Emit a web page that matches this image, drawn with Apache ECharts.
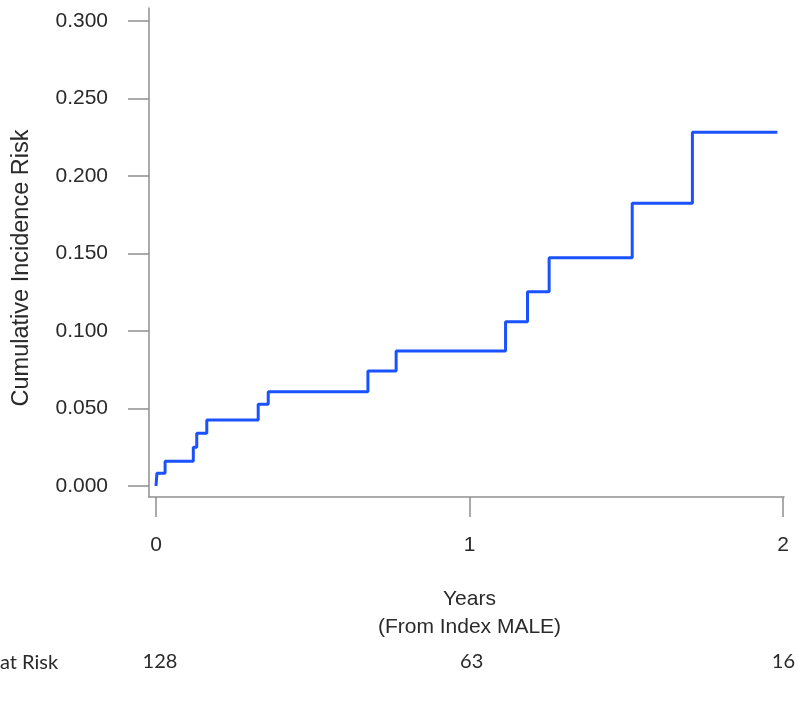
<!DOCTYPE html>
<html>
<head>
<meta charset="utf-8">
<script src="https://cdn.jsdelivr.net/npm/echarts@6/dist/echarts.min.js"></script>
<style>
html,body{margin:0;padding:0;background:#fff;}
#chart{width:798px;height:707px;}
</style>
</head>
<body>
<div id="chart"></div>
<script>
// Event times (years) and cumulative incidence after each event
var eventYears = [0, 0.003, 0.029, 0.119, 0.13, 0.162, 0.326, 0.358, 0.676, 0.766, 1.115, 1.185, 1.254, 1.519, 1.711, 1.982];
var cumIncidence = [0, 0.0083, 0.016, 0.025, 0.034, 0.0426, 0.0527, 0.0608, 0.0742, 0.0871, 0.106, 0.1254, 0.1473, 0.1824, 0.2282, 0.2282];
// Number at risk at years 0, 1, 2
var riskYears = [0, 1, 2];
var atRisk = [128, 63, 16];
var xTicks = [0, 1, 2];
var yTicks = [0, 0.05, 0.1, 0.15, 0.2, 0.25, 0.3];

var seriesData = eventYears.map(function (t, i) { return [t, cumIncidence[i]]; });

var txt = '#2a2a2a';
var axisCol = '#8f8f8f';
var font = '"Liberation Sans", Arial, sans-serif';

function hiddenAxis(gi, mn, mx) {
  return {type: 'value', gridIndex: gi, min: mn, max: mx, show: false};
}

var chart = echarts.init(document.getElementById('chart'), null, {renderer: 'canvas'});
chart.setOption({
  animation: false,
  backgroundColor: '#ffffff',
  grid: [
    {left: 156, right: 15, top: 21, bottom: 221},   // data
    {left: 149, right: 14, top: 8, bottom: 210},    // L-shaped axis lines
    {left: 160, right: 11, top: 21, bottom: 221},   // number at risk row
    {left: 149, right: 15, top: 21, bottom: 221},   // y ticks + labels
    {left: 156, right: 15, top: 21, bottom: 210}    // x ticks + labels
  ],
  xAxis: [
    hiddenAxis(0, 0, 2),
    {
      type: 'value', gridIndex: 1, min: 0, max: 1,
      axisLine: {show: true, onZero: false, lineStyle: {color: axisCol, width: 1.5}},
      axisTick: {show: false}, axisLabel: {show: false}, splitLine: {show: false}
    },
    {
      type: 'value', gridIndex: 2, min: 0, max: 2, interval: 1,
      axisLine: {show: false}, axisTick: {show: false}, splitLine: {show: false},
      axisLabel: {
        margin: 166, color: txt, fontSize: 20, fontFamily: 'Lato, "Open Sans", sans-serif',
        formatter: function (v) { var i = riskYears.indexOf(v); return i >= 0 ? String(atRisk[i]) : ''; }
      }
    },
    hiddenAxis(3, 0, 2),
    {
      type: 'value', gridIndex: 4, min: xTicks[0], max: xTicks[xTicks.length - 1], interval: 1,
      axisLine: {show: false},
      axisTick: {show: true, length: 20, lineStyle: {color: axisCol, width: 1.5}},
      axisLabel: {margin: 38, color: txt, fontSize: 21, fontFamily: font},
      splitLine: {show: false},
      name: 'Years\n(From Index MALE)', nameLocation: 'middle', nameGap: 88,
      nameTextStyle: {color: txt, fontSize: 21, fontFamily: font, lineHeight: 28}
    }
  ],
  yAxis: [
    hiddenAxis(0, 0, 0.3),
    {
      type: 'value', gridIndex: 1, min: 0, max: 1,
      axisLine: {show: true, onZero: false, lineStyle: {color: axisCol, width: 1.5}},
      axisTick: {show: false}, axisLabel: {show: false}, splitLine: {show: false}
    },
    hiddenAxis(2, 0, 1),
    {
      type: 'value', gridIndex: 3, min: yTicks[0], max: yTicks[yTicks.length - 1], interval: 0.05,
      axisLine: {show: false},
      axisTick: {show: true, length: 21, lineStyle: {color: axisCol, width: 1.5}},
      axisLabel: {margin: 41, color: txt, fontSize: 21, fontFamily: font,
        formatter: function (v) { return v.toFixed(3); }},
      splitLine: {show: false}
    },
    hiddenAxis(4, 0, 1)
  ],
  graphic: [
    {
      type: 'text', x: 22, y: 268, rotation: Math.PI / 2,
      style: {text: 'Cumulative Incidence Risk', fill: txt, font: '23.5px ' + font,
        textAlign: 'center', textVerticalAlign: 'middle'}
    },
    {
      type: 'text', x: 0, y: 663,
      style: {text: 'at Risk', fill: txt, font: '20px Lato, "Open Sans", sans-serif',
        textAlign: 'left', textVerticalAlign: 'middle'}
    }
  ],
  series: [
    {
      type: 'line', xAxisIndex: 0, yAxisIndex: 0, step: 'end',
      data: seriesData, symbol: 'none',
      lineStyle: {color: '#1a52ff', width: 3}
    }
  ]
});
</script>
</body>
</html>
